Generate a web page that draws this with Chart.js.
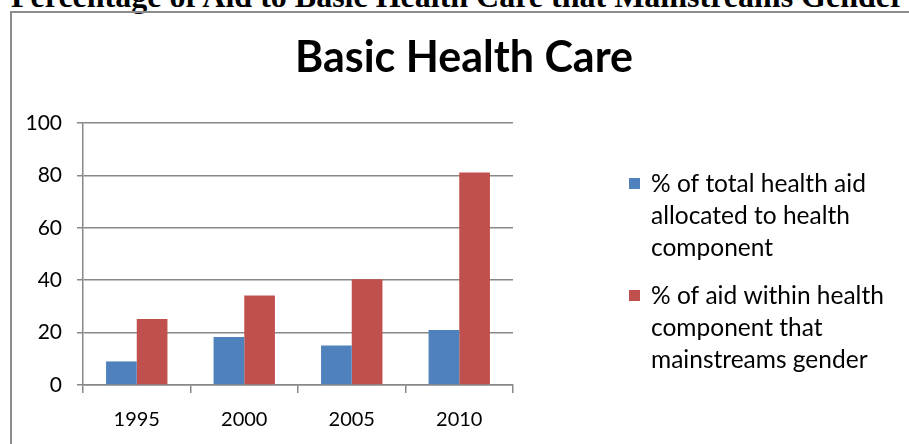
<!DOCTYPE html>
<html>
<head>
<meta charset="utf-8">
<script src="https://cdn.jsdelivr.net/npm/chart.js@4.4.1/dist/chart.umd.min.js"></script>
<style>
  html, body { margin: 0; padding: 0; background: #fff; overflow: hidden; width: 909px; height: 444px; }
  #heading {
    position: absolute; left: 11px; top: -20px; white-space: nowrap;
    font-family: "Liberation Serif", "Times New Roman", serif; font-weight: bold;
    font-size: 32px; line-height: 1; color: #000;
  }
  #frame {
    position: absolute; left: 10px; top: 11px; width: 1000px; height: 600px;
    border: 2px solid #8c8c8c; box-sizing: border-box;
  }
  #chart { position: absolute; left: 10px; top: 0; }
</style>
</head>
<body>
<div id="heading">Percentage of Aid to Basic Health Care that Mainstreams Gender</div>
<div id="frame"></div>
<canvas id="chart" width="909" height="444"></canvas>
<script>
// anos e séries
const years = ['1995', '2000', '2005', '2010'];
const totalHealthAid = [9, 18.3, 15.1, 21];
const mainstreamsGender = [25.2, 34.2, 40.4, 81.1];
const yTicks = [0, 20, 40, 60, 80, 100];

// rótulos da legenda, já quebrados em linhas
const legendTotal = ['% of total health aid', 'allocated to health', 'component'];
const legendGender = ['% of aid within health', 'component that', 'mainstreams gender'];

const chartTitle = 'Basic Health Care';

const blue = '#4F81BD';
const red = '#C0504D';
const gridColor = '#888888';
const fontFamily = 'Lato, "Open Sans", sans-serif';

// título centrado na caixa inteira (não só na área do gráfico)
const boxTitle = {
    id: 'boxTitle',
    afterDraw(chart) {
        const ctx = chart.ctx;
        ctx.save();
        ctx.font = 'bold 43px ' + fontFamily;
        ctx.fillStyle = '#000';
        ctx.textAlign = 'center';
        ctx.textBaseline = 'alphabetic';
        ctx.fillText(chartTitle, 454, 72);
        ctx.restore();
    }
};

// legenda à direita, texto em várias linhas
const wrappedLegend = {
    id: 'wrappedLegend',
    afterDraw(chart) {
        const ctx = chart.ctx;
        const x = 619;
        let y = 184;
        ctx.save();
        ctx.font = '24.5px ' + fontFamily;
        ctx.textBaseline = 'middle';
        chart.data.datasets.forEach(ds => {
            ctx.fillStyle = ds.backgroundColor;
            ctx.fillRect(x, y - 6, 11, 11);
            ctx.fillStyle = '#000';
            ds.legendLines.forEach((line, i) => {
                ctx.fillText(line, x + 22, y + i * 32);
            });
            y += ds.legendLines.length * 32 + 16;
        });
        ctx.restore();
    }
};

const config = {
    type: 'bar',
    data: {
        labels: years,
        datasets: [{
            label: legendTotal.join(' '),
            legendLines: legendTotal,
            data: totalHealthAid,
            backgroundColor: blue,
            categoryPercentage: 0.571,
            barPercentage: 1
        }, {
            label: legendGender.join(' '),
            legendLines: legendGender,
            data: mainstreamsGender,
            backgroundColor: red,
            categoryPercentage: 0.571,
            barPercentage: 1
        }]
    },
    options: {
        responsive: false,
        animation: false,
        layout: { padding: { left: 10, right: 406, top: 123, bottom: 0 } },
        plugins: {
            legend: { display: false },
            tooltip: { enabled: false },
            title: { display: false }
        },
        scales: {
            x: {
                grid: { offset: true, drawOnChartArea: false, drawTicks: true, tickLength: 8, color: gridColor, lineWidth: 1.5 },
                border: { display: true, color: gridColor, width: 1.5 },
                ticks: { color: '#000', font: { family: fontFamily, size: 20 }, padding: 15 },
                afterFit(scale) { scale.height = 59; }
            },
            y: {
                min: 0,
                max: 100,
                afterBuildTicks(scale) { scale.ticks = yTicks.map(v => ({ value: v })); },
                grid: { color: gridColor, lineWidth: 1.5, drawTicks: true, tickLength: 6 },
                border: { display: true, color: gridColor, width: 1.5 },
                ticks: { color: '#000', font: { family: fontFamily, size: 21 }, padding: 15 },
                afterFit(scale) { scale.width = 63; }
            }
        }
    },
    plugins: [boxTitle, wrappedLegend]
};

new Chart(document.getElementById('chart').getContext('2d'), config);
</script>
</body>
</html>
